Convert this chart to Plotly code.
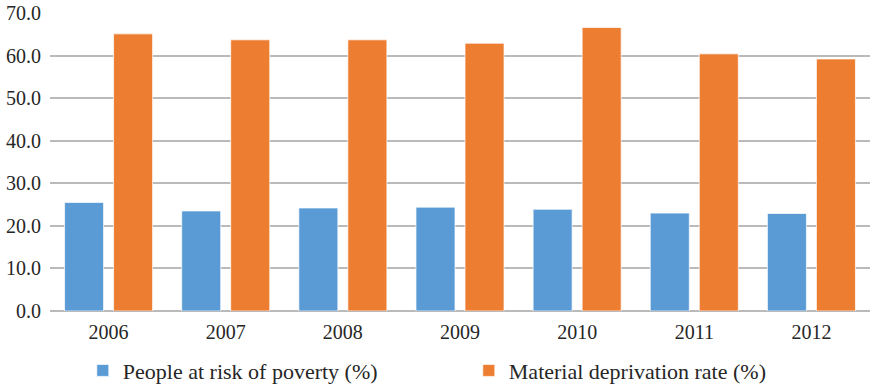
import plotly.graph_objects as go

years = ["2006", "2007", "2008", "2009", "2010", "2011", "2012"]
risk_of_poverty = [25.5, 23.5, 24.2, 24.4, 23.9, 23.0, 22.9]
material_deprivation = [65.1, 63.7, 63.7, 62.9, 66.6, 60.4, 59.2]
y_ticks = [0, 10, 20, 30, 40, 50, 60, 70]

font_family = "'Liberation Serif', 'Times New Roman', Times, serif"
text_color = "#262626"
tick_size = 20
legend_size = 22

fig = go.Figure()
fig.add_trace(go.Bar(
    x=years, y=risk_of_poverty, name="People at risk of poverty (%)",
    marker=dict(color="#5B9BD5", line=dict(color="rgba(255,255,255,0.7)", width=1)),
))
fig.add_trace(go.Bar(
    x=years, y=material_deprivation, name="Material deprivation rate (%)",
    marker=dict(color="#ED7D31", line=dict(color="rgba(255,255,255,0.7)", width=1)),
))

fig.update_layout(
    width=871, height=386,
    margin=dict(l=50, r=1, t=13, b=75, autoexpand=False),
    paper_bgcolor="white", plot_bgcolor="white",
    barmode="group", bargap=0.163, bargroupgap=0.204,
    font=dict(family=font_family, size=tick_size, color=text_color),
    legend=dict(
        orientation="h", x=0.04, xanchor="left", y=-0.2, yanchor="middle",
        font=dict(family=font_family, size=legend_size, color=text_color),
        entrywidth=341, entrywidthmode="pixels",
    ),
    showlegend=True,
)
fig.update_xaxes(
    showgrid=False, showline=False, ticks="", ticklabelstandoff=7,
    tickfont=dict(family=font_family, size=tick_size, color=text_color),
)
fig.update_yaxes(
    range=[0, 70], tickvals=y_ticks, ticktext=[f"{v:.1f}" for v in y_ticks],
    showgrid=True, gridcolor="#BABABA", gridwidth=1.6,
    zeroline=True, zerolinecolor="#BABABA", zerolinewidth=1.6,
    showline=False, ticks="", ticklabelstandoff=8,
    tickfont=dict(family=font_family, size=tick_size, color=text_color),
)

fig.write_html("out.html")
